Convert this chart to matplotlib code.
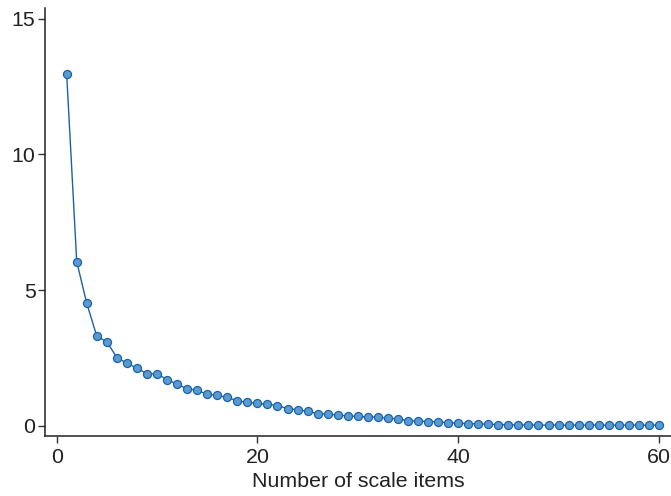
import matplotlib
matplotlib.use("Agg")
import matplotlib.pyplot as plt
import numpy as np

# eigenvalues
items = np.arange(1, 61)
eigenvalues = [12.95, 6.05, 4.51, 3.30, 3.09, 2.51, 2.30, 2.12, 1.91, 1.91,
               1.70, 1.53, 1.36, 1.31, 1.15, 1.12, 1.04, 0.92, 0.86, 0.82,
               0.79, 0.74, 0.63, 0.59, 0.53, 0.44, 0.43, 0.39, 0.36, 0.34,
               0.32, 0.31, 0.27, 0.26, 0.18, 0.17, 0.15, 0.15, 0.10, 0.10,
               0.07, 0.07, 0.05, 0.04, 0.03, 0.03, 0.02, 0.02, 0.02, 0.02,
               0.02, 0.02, 0.02, 0.02, 0.02, 0.02, 0.02, 0.02, 0.02, 0.02]
xticks = [0, 20, 40, 60]
yticks = [0, 5, 10, 15]

plt.rcParams['font.family'] = ['Liberation Sans', 'DejaVu Sans']

fig = plt.figure(figsize=(6.71, 4.96), dpi=100)
ax = fig.add_axes([0.0675, 0.121, 0.9325, 0.863])

ax.plot(items, eigenvalues, color='#1a62a8', linewidth=1.0,
        marker='o', markersize=5.8, markerfacecolor='#5b9ad0',
        markeredgecolor='#1a62a8', markeredgewidth=0.9)

ax.set_xlim(-1.13, 61.2)
ax.set_ylim(-0.38, 15.4)
ax.set_xticks(xticks)
ax.set_yticks(yticks)
ax.tick_params(labelsize=15.4, length=5, width=1, color='#333333', labelcolor='#222222')
ax.tick_params(axis='x', pad=4)
ax.tick_params(axis='y', pad=2)
ax.set_xlabel('Number of scale items', fontsize=15.4, color='#222222', labelpad=3)

ax.spines['top'].set_visible(False)
ax.spines['right'].set_visible(False)
for s in ['left', 'bottom']:
    ax.spines[s].set_color('#222222')
    ax.spines[s].set_linewidth(1.1)

fig.savefig('out.png', dpi=100)
